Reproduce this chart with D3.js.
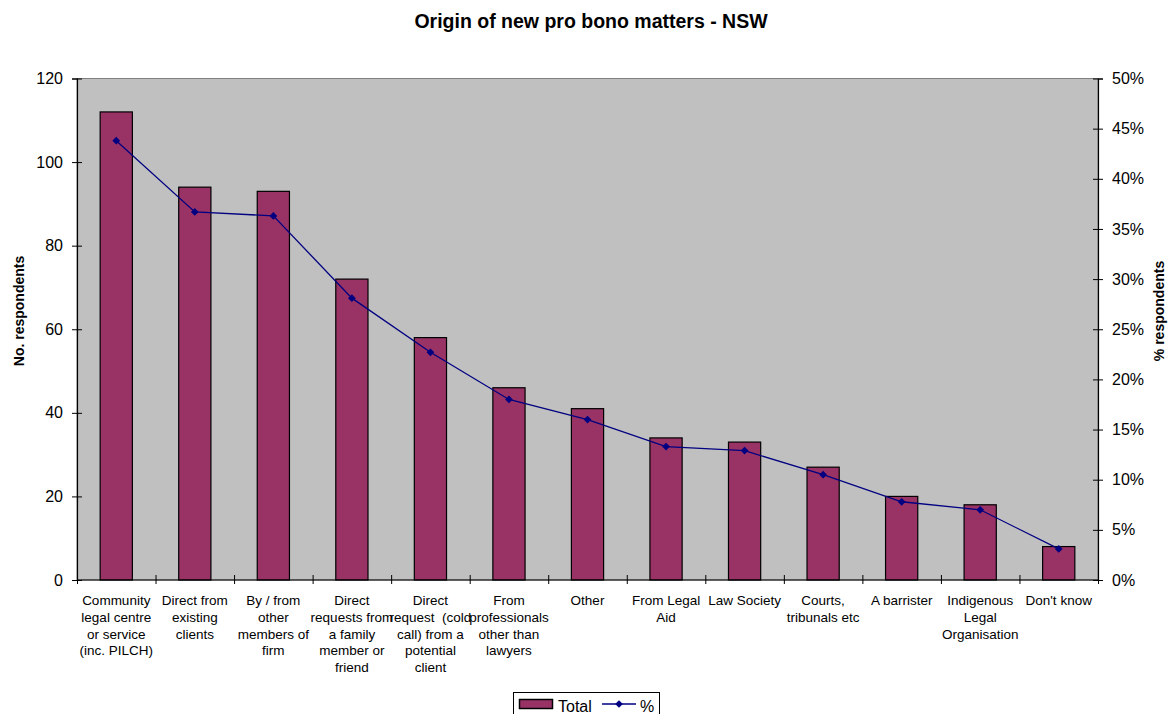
<!DOCTYPE html>
<html><head><meta charset="utf-8">
<script src="https://cdn.jsdelivr.net/npm/d3@7"></script>
<style>body{margin:0;background:#fff}svg{display:block;font-family:"Liberation Sans",Arial,sans-serif}</style>
</head><body>
<script>
const categories = [
  "Community\nlegal centre\nor service\n(inc. PILCH)",
  "Direct from\nexisting\nclients",
  "By / from\nother\nmembers of\nfirm",
  "Direct\nrequests from\na family\nmember or\nfriend",
  "Direct\nrequest  (cold\ncall) from a\npotential\nclient",
  "From\nprofessionals\nother than\nlawyers",
  "Other",
  "From Legal\nAid",
  "Law Society",
  "Courts,\ntribunals etc",
  "A barrister",
  "Indigenous\nLegal\nOrganisation",
  "Don't know"
];
const totals = [112, 94, 93, 72, 58, 46, 41, 34, 33, 27, 20, 18, 8];
const percents = [43.8, 36.7, 36.3, 28.1, 22.7, 18.0, 16.0, 13.3, 12.9, 10.5, 7.8, 7.0, 3.1];
const leftTicks = [0, 20, 40, 60, 80, 100, 120];
const rightTicks = [0, 5, 10, 15, 20, 25, 30, 35, 40, 45, 50];

const W = 1168, H = 714;
const L = 77, R = 1098, T = 78.5, B = 580;
const svg = d3.select("body").append("svg").attr("width", W).attr("height", H);

const x = d3.scaleBand().domain(categories.map((d, i) => i)).range([L, R]).paddingInner(0).paddingOuter(0);
const yL = d3.scaleLinear().domain([0, 120]).range([B, T]);
const yR = d3.scaleLinear().domain([0, 50]).range([B, T]);

svg.append("rect").attr("x", L).attr("y", T).attr("width", R - L).attr("height", B - T)
  .attr("fill", "#C0C0C0").attr("stroke", "#808080").attr("stroke-width", 1);

const bw = x.bandwidth() * 0.41;
svg.append("g").selectAll("rect").data(totals).join("rect")
  .attr("x", (d, i) => x(i) + x.bandwidth() / 2 - bw / 2)
  .attr("y", d => yL(d))
  .attr("width", bw)
  .attr("height", d => yL(0) - yL(d))
  .attr("fill", "#993366").attr("stroke", "#000").attr("stroke-width", 1.2);

const line = d3.line().x((d, i) => x(i) + x.bandwidth() / 2).y(d => yR(d));
svg.append("path").datum(percents).attr("d", line).attr("fill", "none").attr("stroke", "#000080").attr("stroke-width", 1.3);
svg.append("g").selectAll("path").data(percents).join("path")
  .attr("d", d3.symbol().type(d3.symbolSquare).size(30)())
  .attr("transform", (d, i) => `translate(${x(i) + x.bandwidth() / 2},${yR(d)}) rotate(45)`)
  .attr("fill", "#000080");

const FONT = "Liberation Sans, Arial, sans-serif";
// Left axis
const gL = svg.append("g").attr("transform", `translate(${L},0)`)
  .call(d3.axisLeft(yL).tickValues(leftTicks).tickSize(5).tickPadding(9));
gL.selectAll(".tick line").attr("x2", -5).attr("x1", 5);
// Right axis
const gR = svg.append("g").attr("transform", `translate(${R},0)`)
  .call(d3.axisRight(yR).tickValues(rightTicks).tickFormat(d => d + "%").tickSize(5).tickPadding(9));
gR.selectAll(".tick line").attr("x1", -5).attr("x2", 5);
// Bottom axis
const xEdge = d3.scaleLinear().domain([0, categories.length]).range([L, R]);
const gB = svg.append("g").attr("transform", `translate(0,${B})`)
  .call(d3.axisBottom(xEdge).tickValues(d3.range(0, categories.length + 1)).tickFormat("").tickSize(4));
gB.selectAll(".tick line").attr("y1", -5).attr("y2", 4);

[gL, gR, gB].forEach(g => {
  g.select(".domain").attr("stroke", "#000").attr("stroke-width", 1.2);
  g.selectAll(".tick line").attr("stroke", "#000");
  g.selectAll(".tick text").attr("font-size", 16).attr("fill", "#000").attr("font-family", FONT);
});
gB.select(".domain").attr("d", `M${L},0H${R}`);

// Category labels
const lab = svg.append("g").selectAll("text").data(categories).join("text")
  .attr("x", (d, i) => x(i) + x.bandwidth() / 2)
  .attr("y", 605)
  .attr("text-anchor", "middle").attr("font-size", 13.5).attr("fill", "#000");
lab.each(function(d) {
  const t = d3.select(this);
  d.split("\n").forEach((s, j) => {
    t.append("tspan").attr("x", t.attr("x")).attr("y", 605 + j * 16.8).attr("xml:space", "preserve").text(s);
  });
});

// Title
svg.append("text").attr("x", 591).attr("y", 28).attr("text-anchor", "middle")
  .attr("font-size", 19.5).attr("font-weight", "bold").text("Origin of new pro bono matters - NSW");

// Axis titles
svg.append("text").attr("transform", `translate(24,311) rotate(-90)`).attr("text-anchor", "middle")
  .attr("font-size", 14).attr("font-weight", "bold").text("No. respondents");
svg.append("text").attr("transform", `translate(1164,311) rotate(-90)`).attr("text-anchor", "middle")
  .attr("font-size", 14).attr("font-weight", "bold").text("% respondents");

// Legend
const lg = svg.append("g");
lg.append("rect").attr("x", 513.5).attr("y", 692.5).attr("width", 146).attr("height", 30)
  .attr("fill", "#fff").attr("stroke", "#000").attr("stroke-width", 1);
lg.append("rect").attr("x", 519.5).attr("y", 699.5).attr("width", 33).attr("height", 9)
  .attr("fill", "#993366").attr("stroke", "#000").attr("stroke-width", 1.5);
lg.append("text").attr("x", 558).attr("y", 712).attr("font-size", 16).text("Total");
lg.append("line").attr("x1", 602).attr("x2", 636).attr("y1", 704).attr("y2", 704).attr("stroke", "#000080").attr("stroke-width", 1.5);
lg.append("path").attr("d", d3.symbol().type(d3.symbolSquare).size(30)()).attr("transform", "translate(619,704) rotate(45)").attr("fill", "#000080");
lg.append("text").attr("x", 640).attr("y", 712).attr("font-size", 16).text("%");
</script>
</body></html>
